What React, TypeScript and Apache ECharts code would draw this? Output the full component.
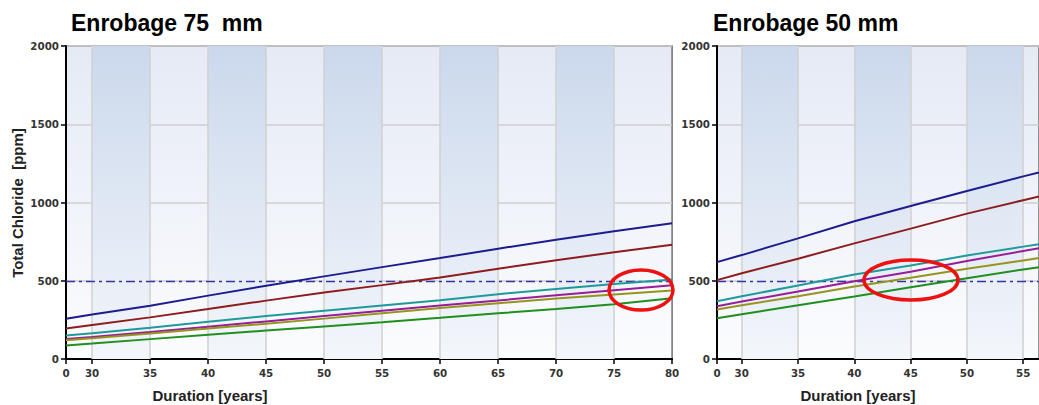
import React, { useEffect, useRef } from "react";
import * as echarts from "echarts";

// ---------- data ----------
const leftTitle = "Enrobage 75  mm";
const rightTitle = "Enrobage 50 mm";
const xTitle = "Duration [years]";
const yTitle = "Total Chloride  [ppm]";

const leftStart = 27.75;
const leftEnd = 80;
const rightStart = 27.8;
const rightEnd = 56.4;

const leftTicks = [leftStart, 30, 35, 40, 45, 50, 55, 60, 65, 70, 75, 80];
const rightTicks = [rightStart, 30, 35, 40, 45, 50, 55];
const gridYears = [30, 35, 40, 45, 50, 55, 60, 65, 70, 75, 80];

const leftBands = [[30, 35], [40, 45], [50, 55], [60, 65], [70, 75]];
const rightBands = [[30, 35], [40, 45], [50, 55]];

const threshold = 500;

const leftYears = [27.75, 30, 35, 40, 45, 50, 55, 60, 65, 70, 75, 80];
const leftBlue = [257, 285, 340, 405, 468, 528, 587, 645, 705, 762, 816, 868];
const leftRed = [195, 217, 266, 319, 373, 425, 472, 521, 577, 631, 682, 730];
const leftTeal = [150, 165, 200, 238, 274, 308, 342, 376, 414, 448, 480, 508];
const leftPurple = [128, 141, 172, 206, 240, 274, 308, 342, 374, 407, 440, 472];
const leftOlive = [120, 133, 163, 195, 225, 258, 293, 326, 356, 386, 412, 437];
const leftGreen = [87, 99, 127, 155, 182, 208, 235, 263, 292, 320, 350, 388];

const rightYears = [27.8, 30, 35, 40, 45, 50, 55, 56.4];
const rightBlue = [619, 664, 771, 880, 978, 1074, 1167, 1192];
const rightRed = [504, 548, 641, 739, 833, 929, 1015, 1038];
const rightTeal = [369, 401, 470, 540, 598, 662, 718, 734];
const rightPurple = [337, 367, 431, 497, 558, 626, 690, 707];
const rightOlive = [316, 344, 401, 463, 519, 577, 630, 645];
const rightGreen = [260, 286, 343, 400, 458, 516, 572, 587];

const colors = ["#1c1c8e", "#8e1c1c", "#1f9a9a", "#981e98", "#95951e", "#1f8f1f"];

// ---------- chart ----------
const FONT = "'Liberation Sans', Arial, sans-serif";
const TICKFONT = "'DejaVu Sans', Verdana, sans-serif";

function bg() {
  return new echarts.graphic.LinearGradient(0, 0, 0, 1, [
    { offset: 0, color: "#e5eaf5" },
    { offset: 1, color: "#fbfcfe" },
  ]);
}
function bandColor() {
  return new echarts.graphic.LinearGradient(0, 0, 0, 1, [
    { offset: 0, color: "#cbd8ec" },
    { offset: 1, color: "#f3f6fb" },
  ]);
}

function makeXAxis(idx: number, min: number, max: number, ticks: number[]) {
  return {
    type: "value",
    gridIndex: idx,
    min,
    max,
    axisLine: { show: true, onZero: false, lineStyle: { color: "#000", width: 2 } },
    axisTick: { show: true, customValues: ticks, length: 5, lineStyle: { color: "#000", width: 1.5 } },
    axisLabel: {
      customValues: ticks,
      margin: 9,
      color: "#333",
      fontFamily: TICKFONT,
      fontWeight: "bold",
      fontSize: 10.3,
      formatter: (v: number) => (Math.abs(v - min) < 0.01 ? "0" : String(v)),
    },
    splitLine: { show: false },
  };
}

function makeYAxis(idx: number) {
  return {
    type: "value",
    gridIndex: idx,
    min: 0,
    max: 2000,
    interval: 500,
    axisLine: { show: true, lineStyle: { color: "#000", width: 2 } },
    axisTick: { show: true, length: 5, lineStyle: { color: "#000", width: 1.5 } },
    axisLabel: {
      margin: 7,
      color: "#333",
      fontFamily: TICKFONT,
      fontWeight: "bold",
      fontSize: 10.3,
      formatter: (v: number) => String(v),
    },
    splitLine: { show: true, lineStyle: { color: "#cfcfcf", width: 1.5 } },
  };
}

function decoSeries(idx: number, bands: number[][], max: number) {
  return {
    type: "line",
    xAxisIndex: idx,
    yAxisIndex: idx,
    data: [],
    silent: true,
    markArea: {
      silent: true,
      z: 1,
      itemStyle: { color: bandColor() },
      data: bands.map((b) => [{ xAxis: b[0] }, { xAxis: b[1] }]),
    },
    markLine: {
      silent: true,
      symbol: "none",
      z: 1,
      label: { show: false },
      data: gridYears
        .filter((y) => y < max)
        .map((y) => ({ xAxis: y, lineStyle: { color: "#d0d0d0", width: 1.5, type: "solid" } })),
    },
  };
}

function thresholdSeries(idx: number) {
  return {
    type: "line",
    xAxisIndex: idx,
    yAxisIndex: idx,
    data: [],
    silent: true,
    markLine: {
      silent: true,
      symbol: "none",
      z: 2,
      label: { show: false },
      data: [{ yAxis: threshold }],
      lineStyle: { color: "#3535a8", width: 1.3, type: [9, 4, 3, 4] },
    },
  };
}

function lineSeries(idx: number, years: number[], values: number[], color: string) {
  return {
    type: "line",
    xAxisIndex: idx,
    yAxisIndex: idx,
    data: years.map((y, i) => [y, values[i]]),
    symbol: "none",
    silent: true,
    z: 3,
    lineStyle: { color, width: 2 },
    itemStyle: { color },
  };
}

export default function App() {
  const ref = useRef<HTMLDivElement>(null);
  useEffect(() => {
    if (!ref.current) return;
    const chart = echarts.init(ref.current, undefined, { renderer: "svg" });
    const leftSets = [leftBlue, leftRed, leftTeal, leftPurple, leftOlive, leftGreen];
    const rightSets = [rightBlue, rightRed, rightTeal, rightPurple, rightOlive, rightGreen];
    const pxL = 11.6;
    const pxR = 11.5;
    const leftW = (leftEnd - leftStart) * pxL;
    const rightW = (rightEnd - rightStart) * pxR;
    chart.setOption({
      animation: false,
      backgroundColor: "#ffffff",
      grid: [
        {
          left: 66,
          top: 46,
          width: leftW,
          height: 313,
          show: true,
          backgroundColor: bg(),
          borderColor: "#707070",
          borderWidth: 1.5,
        },
        {
          left: 717,
          top: 46,
          width: rightW,
          height: 313,
          show: true,
          backgroundColor: bg(),
          borderColor: "#707070",
          borderWidth: 1.5,
        },
      ],
      xAxis: [
        makeXAxis(0, leftStart, leftEnd, leftTicks),
        makeXAxis(1, rightStart, rightEnd, rightTicks),
      ],
      yAxis: [makeYAxis(0), makeYAxis(1)],
      series: [
        decoSeries(0, leftBands, leftEnd),
        decoSeries(1, rightBands, rightEnd),
        thresholdSeries(0),
        thresholdSeries(1),
        ...leftSets.map((s, i) => lineSeries(0, leftYears, s, colors[i])),
        ...rightSets.map((s, i) => lineSeries(1, rightYears, s, colors[i])),
      ],
      graphic: [
        {
          type: "text",
          x: 71,
          y: 23,
          style: { text: leftTitle, font: `bold 23px ${FONT}`, fill: "#000", textVerticalAlign: "middle" },
        },
        {
          type: "text",
          x: 713,
          y: 23,
          style: { text: rightTitle, font: `bold 23px ${FONT}`, fill: "#000", textVerticalAlign: "middle" },
        },
        {
          type: "text",
          x: 17,
          y: 203,
          rotation: Math.PI / 2,
          style: {
            text: yTitle,
            font: `bold 15px ${FONT}`,
            fill: "#222",
            textAlign: "center",
            textVerticalAlign: "middle",
          },
        },
        {
          type: "text",
          x: 210,
          y: 395,
          style: { text: xTitle, font: `bold 15px ${FONT}`, fill: "#222", textAlign: "center", textVerticalAlign: "middle" },
        },
        {
          type: "text",
          x: 858,
          y: 395,
          style: { text: xTitle, font: `bold 15px ${FONT}`, fill: "#222", textAlign: "center", textVerticalAlign: "middle" },
        },
        {
          type: "ellipse",
          z: 100,
          shape: { cx: 641, cy: 290, rx: 32, ry: 20 },
          style: { fill: "none", stroke: "#ee1111", lineWidth: 3.5 },
        },
        {
          type: "ellipse",
          z: 100,
          shape: { cx: 911, cy: 280, rx: 47, ry: 20 },
          style: { fill: "none", stroke: "#ee1111", lineWidth: 3.5 },
        },
      ],
    });
    return () => chart.dispose();
  }, []);
  return (
    <div
      ref={ref}
      style={{ position: "absolute", left: 0, top: 0, width: 1039, height: 405 }}
    />
  );
}
